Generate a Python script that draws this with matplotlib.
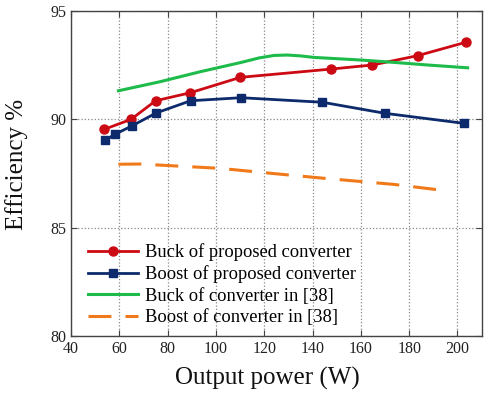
import matplotlib
matplotlib.use("Agg")
import matplotlib.pyplot as plt

# Efficiency versus output power for the proposed converter and the one in [38]
buck_p = [53.7, 64.8, 75.0, 89.4, 110.1, 147.5, 164.8, 183.5, 203.5]
buck_eff = [89.54, 90.00, 90.86, 91.23, 91.94, 92.32, 92.51, 92.94, 93.56]

boost_p = [54.1, 58.3, 65.2, 75.3, 89.5, 110.4, 144.1, 170.0, 202.5]
boost_eff = [89.04, 89.32, 89.70, 90.30, 90.86, 91.00, 90.79, 90.28, 89.82]

ref_buck_p = [59.6, 76.9, 93.5, 110.1, 118.0, 124.0, 129.5, 135.0, 140.5,
              159.9, 173.7, 187.6, 204.2]
ref_buck_eff = [91.32, 91.74, 92.20, 92.62, 92.84, 92.95, 92.97, 92.93, 92.86,
                92.74, 92.63, 92.51, 92.38]

ref_boost_p = [59.6, 68.5, 101.7, 123.8, 145.9, 173.6, 196.4]
ref_boost_eff = [87.93, 87.94, 87.74, 87.50, 87.27, 87.00, 86.69]

plt.rcParams["font.family"] = ["Liberation Serif", "DejaVu Serif"]

fig = plt.figure(figsize=(4.87, 3.94), dpi=100)
ax = fig.add_axes([0.146, 0.147, 0.843, 0.825])

ax.plot(buck_p, buck_eff, color="#cc0a14", lw=2.0, marker="o", ms=6.5,
        label="Buck of proposed converter")
ax.plot(boost_p, boost_eff, color="#0c2a6c", lw=2.0, marker="s", ms=6,
        label="Boost of proposed converter")
ax.plot(ref_buck_p, ref_buck_eff, color="#1dbb4a", lw=2.2,
        label="Buck of converter in [38]")
ax.plot(ref_boost_p, ref_boost_eff, color="#f07a1a", lw=2.2,
        linestyle=(0, (7.5, 4.6)), label="Boost of converter in [38]")

ax.set_xlim(40, 210)
ax.set_ylim(80, 95)
ax.set_xticks(range(40, 201, 20))
ax.set_yticks([80, 85, 90, 95])
ax.grid(True, linestyle=":", color="#888888", lw=0.9)
ax.tick_params(direction="in", length=4, top=True, right=True,
               labelsize=11.5, labelcolor="#222222", color="#444444")
for sp in ax.spines.values():
    sp.set_color("#444444")
    sp.set_linewidth(1.0)

ax.set_xlabel("Output power (W)", fontsize=18, color="#111111")
ax.set_ylabel("Efficiency %", fontsize=18, color="#111111")
ax.xaxis.set_label_coords(0.478, -0.095)
ax.yaxis.set_label_coords(-0.105, 0.529)

ax.legend(loc="lower left", bbox_to_anchor=(0.041, 0.03), frameon=False,
          fontsize=13.3, handlelength=2.7, handletextpad=0.4,
          labelspacing=0.24, borderpad=0, borderaxespad=0)

fig.savefig("out.png", dpi=100)
